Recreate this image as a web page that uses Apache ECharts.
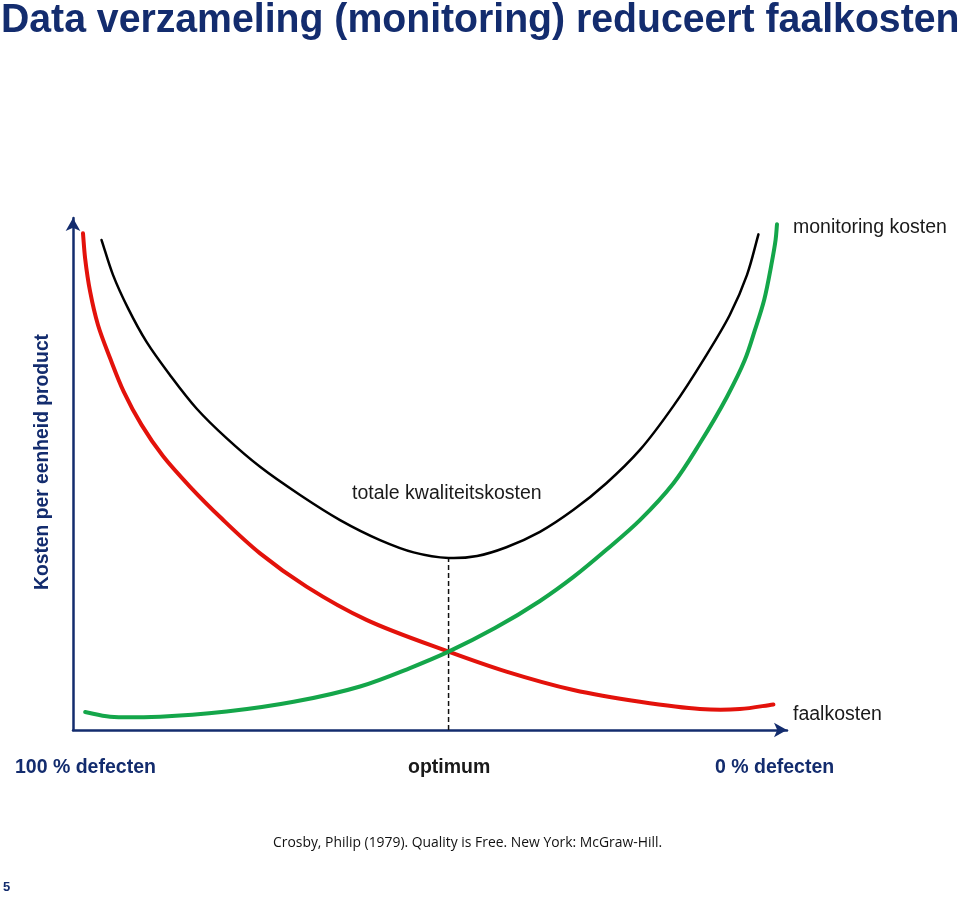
<!DOCTYPE html>
<html>
<head>
<meta charset="utf-8">
<script src="https://cdn.jsdelivr.net/npm/echarts@6/dist/echarts.min.js"></script>
<style>
html,body{margin:0;padding:0;background:#fff;}
#chart{width:960px;height:897px;}
</style>
</head>
<body>
<div id="chart"></div>
<script>
// Values on a 0–100 scale (x: from 100 % defects to 0 % defects; y: cost per unit)
const faalkosten = [
  [1.4,97.0],[1.7,92.1],[2.4,85.6],[3.5,79.1],[5.2,72.6],[7.1,66.1],[9.6,59.6],[12.6,53.5],
  [16.4,47.5],[20.9,41.2],[26.2,34.5],[32.7,28.0],[41.1,21.5],[52.6,15.3],[60.7,11.4],[70.1,7.8],
  [79.4,5.5],[87.8,4.1],[93.4,4.1],[98.1,5.0]
];
const totaleKosten = [
  [4.0,95.7],[5.6,88.9],[7.7,82.4],[10.3,75.8],[13.6,69.3],[17.3,62.8],[21.5,57.0],[26.2,51.4],
  [31.8,45.9],[37.4,41.0],[43.0,37.1],[47.7,34.7],[52.6,33.6],[56.6,34.0],[60.7,35.7],[65.4,38.7],
  [70.1,43.0],[74.7,48.2],[79.4,54.7],[84.1,63.3],[88.3,72.3],[92.0,81.1],[94.4,88.9],[96.0,96.8]
];
const monitoringKosten = [
  [1.7,3.5],[5.2,2.6],[12.2,2.6],[21.5,3.6],[30.9,5.5],[40.2,8.5],[47.2,12.1],[52.6,15.3],
  [59.1,19.9],[65.4,25.2],[70.1,29.9],[74.7,35.2],[79.4,41.0],[84.1,48.2],[87.8,56.0],
  [91.6,65.1],[94.1,72.3],[95.5,78.1],[96.8,84.0],[97.8,90.8],[98.4,95.7],[98.6,98.8]
];
const optimum = [[52.6,0],[52.6,33.6]];

const titleText = 'Data verzameling (monitoring) reduceert faalkosten';
const yLabel = 'Kosten per eenheid product';
const xLabels = ['100 % defecten','optimum','0 % defecten'];
const curveLabels = ['monitoring kosten','totale kwaliteitskosten','faalkosten'];
const citation = 'Crosby, Philip (1979). Quality is Free. New York: McGraw-Hill.';
const pageNo = '5';

const navy = '#132c6e';
const chart = echarts.init(document.getElementById('chart'), null, {renderer:'canvas'});
const axisCommon = {
  type:'value', min:0, max:100,
  axisLine:{show:true, lineStyle:{color:navy,width:2.5}, symbol:['none','arrow'], symbolSize:[11,13]},
  axisTick:{show:false}, axisLabel:{show:false}, splitLine:{show:false}
};

// Smooth curve (centripetal Catmull-Rom -> cubic Bezier) through the data points, placed via the axes
function curveSeries(pts, color, width, z){
  return {
    type:'custom', data:pts, z:z, clip:false,
    encode:{x:0, y:1},
    renderItem:function(params, api){
      if (params.dataIndex !== 0) return null;
      const p = pts.map(d => api.coord(d));
      const n = p.length;
      const dist = (a,b) => Math.max(Math.sqrt(Math.hypot(a[0]-b[0], a[1]-b[1])), 1e-6);
      let d = 'M' + p[0][0] + ' ' + p[0][1];
      for (let i = 0; i < n - 1; i++){
        const p1 = p[i], p2 = p[i+1];
        const p0 = i > 0 ? p[i-1] : [2*p1[0]-p2[0], 2*p1[1]-p2[1]];
        const p3 = i < n-2 ? p[i+2] : [2*p2[0]-p1[0], 2*p2[1]-p1[1]];
        const d1 = dist(p0,p1), d2 = dist(p1,p2), d3 = dist(p2,p3);
        const A = 2*d1*d1 + 3*d1*d2 + d2*d2, N = 3*d1*(d1+d2);
        const B = 2*d3*d3 + 3*d3*d2 + d2*d2, M = 3*d3*(d3+d2);
        const c1 = [(d1*d1*p2[0] - d2*d2*p0[0] + A*p1[0])/N, (d1*d1*p2[1] - d2*d2*p0[1] + A*p1[1])/N];
        const c2 = [(d3*d3*p1[0] - d2*d2*p3[0] + B*p2[0])/M, (d3*d3*p1[1] - d2*d2*p3[1] + B*p2[1])/M];
        d += ' C' + c1[0] + ' ' + c1[1] + ' ' + c2[0] + ' ' + c2[1] + ' ' + p2[0] + ' ' + p2[1];
      }
      return {type:'path', shape:{pathData:d}, style:{fill:null, stroke:color, lineWidth:width, lineCap:'round', lineJoin:'round'}};
    }
  };
}

chart.setOption({
  backgroundColor:'#fff',
  animation:false,
  grid:{left:73, top:218, width:714, height:512},
  xAxis:Object.assign({}, axisCommon),
  yAxis:Object.assign({}, axisCommon),
  series:[
    {type:'line', data:optimum, symbol:'none', lineStyle:{color:'#111',width:1.5,type:[5,3]}, z:1},
    curveSeries(totaleKosten, '#000', 2.5, 2),
    curveSeries(faalkosten, '#e3120b', 4, 3),
    curveSeries(monitoringKosten, '#14a64a', 4, 3)
  ],
  graphic:[
    {type:'text', x:1, y:1, scaleX:0.98, style:{text:titleText, font:'bold 40px "Liberation Sans", Arial, sans-serif', fill:navy}},
    {type:'text', x:43, y:462, rotation:Math.PI/2, style:{text:yLabel, font:'bold 19.3px "Liberation Sans", Arial, sans-serif', fill:navy, align:'center', verticalAlign:'middle'}},
    {type:'text', left:793, top:218, style:{text:curveLabels[0], font:'19.5px "Liberation Sans", Arial, sans-serif', fill:'#1a1a1a'}},
    {type:'text', left:352, top:484, style:{text:curveLabels[1], font:'19.5px "Liberation Sans", Arial, sans-serif', fill:'#1a1a1a'}},
    {type:'text', left:793, top:705, style:{text:curveLabels[2], font:'19.5px "Liberation Sans", Arial, sans-serif', fill:'#1a1a1a'}},
    {type:'text', left:15, top:758, style:{text:xLabels[0], font:'bold 19.5px "Liberation Sans", Arial, sans-serif', fill:navy}},
    {type:'text', left:408, top:758, style:{text:xLabels[1], font:'bold 19.5px "Liberation Sans", Arial, sans-serif', fill:'#1a1a1a'}},
    {type:'text', left:715, top:758, style:{text:xLabels[2], font:'bold 19.5px "Liberation Sans", Arial, sans-serif', fill:navy}},
    {type:'text', left:273, top:836, style:{text:citation, font:'13.9px "Open Sans", "Liberation Sans", sans-serif', fill:'#111'}},
    {type:'text', left:3, top:881, style:{text:pageNo, font:'bold 13px "Liberation Sans", Arial, sans-serif', fill:navy}}
  ]
});
</script>
</body>
</html>
